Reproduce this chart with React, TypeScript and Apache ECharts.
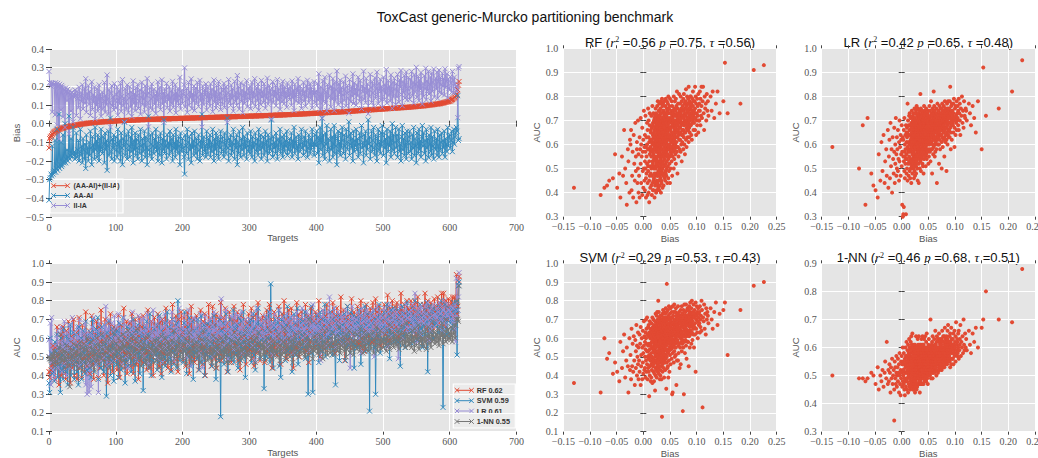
import React, { useEffect, useRef } from "react";
import * as echarts from "echarts";

// ---------- DATA (read/estimated from the reference picture) ----------
// Bias per target, sorted ascending, in thousandths: (AA-AI)+(II-IA)
const BIAS_MILLI = [
  -130,-80,-73,-68,-64,-57,-53,-49,-45,-43,-40,-38,-36,-34,-32,-31,-29,-28,-26,-25,
  -24,-23,-22,-21,-20,-19,-18,-17,-16,-15,-14,-14,-13,-12,-12,-11,-10,-10,-9,-9,
  -8,-7,-7,-6,-5,-5,-4,-4,-3,-2,-2,-1,-1,0,0,1,1,2,2,3,
  3,3,4,4,4,5,5,5,6,6,6,7,7,7,8,8,8,9,9,9,
  9,10,10,10,10,11,11,11,11,12,12,12,12,13,13,13,13,14,14,14,
  14,15,15,15,15,15,16,16,16,16,16,17,17,17,17,17,18,18,18,18,
  18,18,19,19,19,19,19,19,20,20,20,20,20,20,21,21,21,21,21,21,
  21,22,22,22,22,22,22,22,23,23,23,23,23,23,23,23,24,24,24,24,
  24,24,24,24,25,25,25,25,25,25,25,25,26,26,26,26,26,26,26,26,
  27,27,27,27,27,27,27,27,27,28,28,28,28,28,28,28,28,28,29,29,
  29,29,29,29,29,29,29,30,30,30,30,30,30,30,30,30,31,31,31,31,
  31,31,31,31,31,32,32,32,32,32,32,32,32,32,33,33,33,33,33,33,
  33,33,33,34,34,34,34,34,34,34,34,34,35,35,35,35,35,35,35,35,
  35,36,36,36,36,36,36,36,36,36,37,37,37,37,37,37,37,37,37,38,
  38,38,38,38,38,38,38,39,39,39,39,39,39,39,39,40,40,40,40,40,
  40,40,40,41,41,41,41,41,41,41,41,42,42,42,42,42,42,42,42,43,
  43,43,43,43,43,43,44,44,44,44,44,44,44,45,45,45,45,45,45,45,
  46,46,46,46,46,46,46,47,47,47,47,47,47,47,48,48,48,48,48,48,
  49,49,49,49,49,49,50,50,50,50,50,50,51,51,51,51,51,52,52,52,
  52,52,52,53,53,53,53,53,54,54,54,54,54,55,55,55,55,55,56,56,
  56,56,56,56,57,57,57,57,57,58,58,58,58,58,59,59,59,59,59,60,
  60,60,60,60,61,61,61,61,61,62,62,62,62,62,63,63,63,63,63,64,
  64,64,64,64,65,65,65,65,66,66,66,66,67,67,67,67,68,68,68,68,
  69,69,69,69,70,70,70,70,71,71,71,71,72,72,72,72,73,73,73,73,
  74,74,74,74,75,75,75,75,76,76,76,76,77,77,77,77,78,78,78,78,
  79,79,79,79,80,80,80,80,81,81,81,81,82,82,82,82,83,83,83,83,
  84,84,84,84,85,85,85,85,86,86,86,86,87,87,87,87,88,88,88,88,
  89,89,89,90,90,90,91,91,91,92,92,92,93,93,93,94,94,94,95,95,
  95,96,96,97,97,97,98,98,99,99,100,100,101,101,102,102,103,103,104,104,
  105,105,106,106,107,107,108,109,109,110,111,112,113,114,115,116,117,118,119,120,
  121,122,126,128,130,133,136,139,143,150,153,158,182,207,226,
];

// AA-AI per target, in hundredths
const AA_AI_PCT = [
  -41,-30,-29,-27,-28,-12,-27,-26,-25,-9,-26,-24,-3,-25,-23,5,-24,-22,-10,-23,
  -22,-6,-21,-20,0,-21,-19,-14,-20,-18,4,-19,-17,-8,-18,-16,-2,-17,-15,-19,
  -16,-5,-18,-14,-9,-20,-15,-3,-17,-12,-21,-8,-14,-19,-11,-24,-6,-16,-13,-20,
  -10,-17,-4,-13,-22,-7,-15,-11,-19,-2,-14,-9,-18,-6,-12,-20,-8,-15,-3,-13,
  -16,-7,-11,-21,-5,-14,-9,-25,-12,-4,-17,-10,3,-15,-19,-8,-13,-6,-20,-11,
  -7,-14,-18,-3,-11,-16,-9,-20,-5,-13,-22,-8,-12,1,-17,-10,-6,-19,-14,-4,
  -12,-18,-7,-15,-2,-11,-21,-9,-14,-5,-17,-8,-13,-19,-6,-10,-16,-3,-12,-20,
  -8,-15,-11,-4,-18,-7,-13,-22,-9,4,-14,-17,-6,-11,-19,-5,-12,-16,-8,-13,
  -3,-15,-10,-20,-7,-13,-17,-5,-11,-21,-8,-14,2,-16,-9,-12,-19,-6,-13,-10,
  -17,-4,-11,-15,-8,-20,-6,-13,-10,-18,-3,-14,-9,-16,-7,-12,-22,-5,-11,-15,
  -8,-13,-18,-27,-6,-12,-16,-3,-10,-19,-7,-14,-11,-21,-5,-13,-9,-17,-4,-12,
  -16,-8,-19,-11,-6,-14,-20,-9,-13,5,-17,-10,-7,-15,-12,-18,-4,-11,-16,-8,
  -13,-6,-18,-10,-15,-3,-12,-20,-8,-14,-5,-17,-11,-7,-19,-9,-13,-4,-16,-10,
  -7,-14,-18,-5,-11,-16,-9,3,-13,-20,-8,-12,-6,-17,-10,-15,-3,-11,-19,-8,
  -13,-6,-22,-10,-16,-4,-12,-18,-8,-14,-2,-11,-17,-7,-13,-9,-19,-5,-12,-15,
  -9,-16,-4,-12,-18,-7,-13,-10,-20,-5,-11,-15,-8,-17,-3,-12,-14,-6,-19,-10,
  -13,-7,-17,-11,-4,-15,-9,-20,-6,-12,-16,-8,-14,2,-11,-18,-7,-13,-10,-16,
  -5,-12,-19,-8,-14,-10,-3,-16,-11,-7,-18,-13,-6,-15,-9,-12,-4,-17,-10,-14,
  -8,-15,-11,-5,-18,-9,-13,-2,-16,-10,-7,-14,-12,-19,-6,-11,-15,-8,-3,-13,
  -10,-17,-7,-12,-4,-15,-9,-18,-13,-6,-11,-16,-8,-14,-3,-12,-10,-17,-6,-11,
  -12,-4,-16,-7,-21,-9,-2,-14,-10,3,-17,-6,-12,-19,-5,-11,-1,-15,-8,-13,
  -20,-9,-3,-14,-7,-18,-11,-1,-16,-6,-12,-22,-8,-4,-15,-10,-17,-5,-13,-2,
  -9,-16,-6,-12,-19,-3,-10,-14,-7,1,-17,-11,-5,-13,-8,-20,-4,-15,-9,-12,
  -3,-14,-8,-18,-11,-5,-16,-7,-1,-13,-10,-21,-6,-12,-4,-17,-9,-14,2,-11,
  -7,-19,-12,-4,-15,-9,-2,-13,-17,-6,-11,-20,-8,-3,-14,-10,-16,-5,-12,-1,
  -10,-17,-5,-13,-8,-21,-3,-11,-15,-7,-12,-4,-18,-9,0,-14,-6,-16,-10,-2,
  -13,-6,-18,-9,-3,-15,-11,-20,-7,-1,-14,-8,-17,-5,-12,-19,-4,-10,-16,-7,
  -4,-15,-10,-19,-6,-13,-2,-17,-8,-12,-21,-5,-11,-16,-3,-14,-9,-18,-7,-1,
  -12,-5,-16,-9,-20,-3,-13,-8,-18,-6,-11,-15,-2,-17,-7,-12,-19,-4,-10,-14,
  -8,-17,-3,-12,-18,-6,-14,-10,-5,-16,-9,-13,-4,-18,-8,-11,-15,-2,-12,-7,
  -6,-13,-9,-4,-15,-10,-3,-11,-7,-5,-2,-4,15,-9,-8,
];

// AUC per target and model, in hundredths
const AUC_RF_PCT = [
  42,39,42,43,45,46,56,42,48,38,55,47,66,50,44,35,58,53,40,62,
  60,66,41,47,57,38,64,52,45,69,49,55,36,58,61,44,50,70,40,56,
  47,63,38,58,52,71,44,60,55,39,67,49,57,42,62,74,50,45,59,53,
  64,41,57,50,72,46,59,38,63,55,48,69,52,60,39,66,44,58,75,51,
  49,63,40,58,70,53,45,61,36,68,56,47,73,51,62,42,59,66,48,57,
  65,50,43,61,72,55,39,58,67,47,62,53,76,44,60,51,69,41,57,64,
  52,68,45,60,73,56,41,63,50,70,58,46,65,54,38,61,71,48,59,66,
  55,72,47,62,51,67,43,60,75,53,64,44,58,69,50,63,40,57,71,61,
  66,48,60,73,54,45,68,57,41,63,70,52,59,47,65,76,55,62,44,58,
  51,69,60,43,64,78,55,47,67,58,72,49,62,42,70,57,65,53,74,61,
  63,48,71,56,66,45,60,74,52,68,41,62,58,77,50,65,55,70,47,61,
  57,72,49,64,43,67,59,75,53,62,46,69,56,73,40,63,68,51,60,78,
  66,54,70,45,62,77,58,49,67,60,73,44,64,56,71,52,61,79,48,65,
  58,71,50,66,76,55,63,42,68,60,74,53,65,47,70,61,57,77,52,64,
  69,56,74,48,62,67,43,72,59,65,51,78,61,55,70,46,63,68,57,73,
  54,67,60,76,49,64,71,45,62,58,73,52,66,79,56,63,48,70,61,65,
  72,57,64,47,69,61,75,53,66,59,78,50,63,70,44,67,58,74,55,62,
  65,51,71,60,77,56,68,46,63,73,58,66,80,54,62,70,49,67,59,75,
  58,69,52,76,64,60,44,71,62,67,55,79,63,57,73,50,66,61,74,59,
  70,56,67,62,78,53,65,59,72,47,68,63,76,58,64,71,55,69,60,74,
  61,73,57,68,80,63,50,70,65,59,75,62,67,54,72,66,78,58,64,69,
  67,60,74,56,70,79,63,68,52,72,65,76,61,69,57,73,66,82,59,71,
  63,75,68,48,71,66,59,77,64,70,55,73,67,81,62,69,58,74,65,72,
  70,62,77,67,57,73,65,80,60,71,68,75,53,69,64,78,66,72,61,74,
  64,76,69,72,58,79,66,71,63,81,68,74,60,70,77,65,73,56,75,69,
  72,65,78,69,62,75,70,83,67,73,59,76,71,66,80,68,74,63,77,70,
  66,79,71,74,61,77,69,84,72,67,75,63,78,70,73,65,80,71,76,68,
  75,68,80,72,64,77,71,74,62,79,73,69,82,70,76,66,78,72,74,71,
  69,78,73,84,66,75,71,80,64,77,73,70,79,68,76,72,65,81,74,70,
  77,70,82,74,68,79,72,76,84,71,78,84,73,66,80,75,77,70,81,74,
  78,72,80,74,82,71,77,82,73,78,94,73,77,91,93,
];

const AUC_SVM_PCT = [
  36,31,60,49,52,41,47,42,37,58,44,53,62,39,48,55,45,31,60,43,
  51,38,65,45,57,42,61,48,35,59,53,44,67,40,56,50,63,46,38,55,
  48,62,42,57,35,66,51,45,60,38,55,64,47,52,41,69,56,43,61,50,
  58,44,63,39,54,70,48,60,42,57,65,46,53,71,38,62,50,56,44,66,
  53,61,42,67,49,57,29,63,51,45,69,54,40,60,48,65,56,37,62,50,
  57,46,64,52,39,68,55,61,43,58,50,71,47,63,36,59,54,66,45,60,
  49,65,55,42,62,58,70,46,53,37,64,56,48,67,52,60,41,57,63,54,
  61,32,58,66,47,55,69,50,62,44,57,73,52,40,63,56,48,65,59,51,
  55,67,43,60,52,72,48,58,64,39,57,62,50,68,45,59,53,74,47,61,
  66,49,57,42,62,70,53,46,64,58,51,68,44,80,56,61,48,65,52,59,
  60,47,68,74,53,63,41,58,66,50,71,55,45,62,57,69,38,64,52,59,
  54,65,49,70,58,43,63,56,72,47,61,53,67,40,59,64,51,68,55,62,
  63,50,69,57,45,66,59,72,52,61,38,67,55,63,48,70,58,18,64,53,
  59,68,46,62,55,73,51,64,42,60,57,70,49,66,53,61,75,47,58,65,
  52,67,60,44,71,56,63,48,69,58,54,74,50,62,39,66,57,64,51,68,
  62,55,70,47,64,58,73,51,66,43,60,68,54,76,57,63,49,67,59,61,
  56,69,33,64,58,71,50,65,60,74,53,47,89,62,57,68,44,66,61,70,
  64,52,68,58,75,45,62,39,70,57,66,54,72,60,48,67,59,77,53,63,
  58,71,55,66,42,64,60,73,51,68,62,57,76,46,65,59,70,54,67,61,
  69,56,63,74,49,67,60,58,30,71,55,65,62,77,52,31,68,59,64,57,
  63,72,56,68,47,65,74,59,62,53,70,66,58,78,50,67,61,69,55,64,
  60,74,57,66,51,70,63,76,55,35,68,61,72,58,65,48,71,62,67,59,
  67,58,73,62,48,70,64,77,56,66,61,52,74,63,69,57,72,44,65,68,
  62,71,55,68,75,60,66,46,72,64,58,70,63,77,53,67,61,73,57,69,
  21,66,73,59,68,62,75,55,70,30,64,71,58,67,78,61,52,69,65,72,
  66,59,74,63,70,56,78,65,61,72,49,68,75,62,67,71,58,76,64,69,
  70,63,58,75,67,72,45,69,64,77,61,73,66,55,71,68,79,62,74,67,
  64,73,68,57,76,70,63,72,80,66,69,59,74,67,71,62,78,65,72,55,
  71,66,75,62,73,68,79,42,70,65,77,72,63,74,69,60,76,71,67,73,
  68,74,63,77,70,66,72,80,64,75,23,71,69,78,65,73,62,76,70,74,
  72,68,76,70,65,74,79,67,73,75,79,51,75,88,90,
];

const AUC_LR_PCT = [
  59,50,68,35,71,48,43,41,38,56,45,61,49,64,44,53,58,47,66,42,
  55,62,46,69,51,58,40,63,54,48,67,57,44,60,52,71,47,56,63,50,
  58,49,66,54,61,45,70,53,59,64,47,56,62,51,68,35,57,30,63,55,
  31,62,53,34,66,57,49,71,55,60,46,64,58,52,31,68,54,61,48,65,
  56,63,50,67,54,77,59,45,65,57,70,52,61,47,68,58,64,53,72,60,
  55,66,49,61,73,57,52,68,60,46,64,58,71,54,62,50,67,59,44,63,
  60,69,53,65,57,74,51,62,68,56,61,48,66,59,72,54,63,57,70,52,
  64,57,71,50,62,67,55,73,59,46,65,60,69,53,63,58,75,51,61,66,
  56,68,62,49,71,59,64,54,70,60,47,66,58,73,55,62,68,52,65,59,
  63,51,69,60,74,56,65,48,61,70,58,66,53,67,62,76,55,60,64,57,
  66,59,72,54,61,68,50,64,57,75,62,56,69,45,63,60,71,58,66,61,
  59,70,55,64,67,52,62,73,58,65,44,68,61,57,72,63,54,66,60,69,
  64,57,71,62,50,67,60,74,56,65,61,69,53,63,68,58,72,55,81,62,
  67,60,56,70,63,75,58,65,49,68,61,64,72,57,66,60,54,71,62,73,
  59,68,63,55,72,61,66,58,74,52,65,69,60,63,57,70,64,67,51,62,
  70,58,65,61,73,56,67,63,48,69,62,76,59,66,64,54,71,60,68,63,
  61,69,57,66,72,60,64,55,70,63,58,74,65,62,68,51,67,61,73,59,
  66,62,70,56,64,75,61,68,58,63,71,54,67,60,69,65,73,57,62,70,
  63,57,68,72,60,66,52,71,64,69,61,74,58,65,62,70,55,67,63,76,
  60,68,64,71,57,66,74,62,69,53,65,72,61,67,63,78,58,70,64,66,
  69,61,73,64,58,70,66,48,72,63,75,60,68,65,71,56,67,74,62,69,
  82,64,70,59,73,66,62,76,68,55,71,65,63,74,60,69,67,72,57,70,
  66,72,61,69,75,63,67,58,73,65,70,44,68,62,77,64,71,60,69,66,
  70,63,74,67,60,72,65,52,76,68,71,62,69,73,58,66,75,64,70,67,
  64,73,68,71,61,75,66,50,72,69,63,77,67,70,59,74,65,72,68,62,
  71,65,76,68,63,73,70,55,74,66,78,69,61,72,67,75,64,71,69,73,
  67,74,62,49,71,77,65,70,68,73,60,75,69,72,64,78,66,71,63,74,
  72,66,75,69,78,63,71,67,84,73,65,58,70,76,68,74,62,77,71,69,
  74,68,72,77,65,73,70,79,67,59,75,71,64,76,72,69,78,66,73,70,
  71,76,68,74,79,66,73,70,77,64,75,72,80,69,74,67,78,72,71,75,
  74,70,77,73,68,76,71,65,78,58,92,72,75,82,95,
];

const AUC_NN_PCT = [
  50,49,49,48,49,51,50,47,53,45,50,48,52,46,51,55,49,62,47,52,
  48,54,51,44,53,49,56,47,50,52,45,34,55,49,53,47,51,57,46,50,
  53,48,56,51,44,54,50,58,47,52,43,55,49,57,51,46,54,60,48,52,
  50,55,47,58,52,45,54,49,43,56,51,60,48,53,46,57,51,55,49,62,
  54,48,57,51,45,59,52,55,49,61,53,44,56,50,58,47,54,63,51,55,
  50,57,53,46,60,52,55,49,45,58,54,62,48,56,51,59,47,55,64,52,
  56,50,59,53,48,61,55,51,57,46,60,54,52,65,49,57,53,58,45,55,
  51,57,49,54,60,46,53,56,48,61,52,45,55,50,58,53,47,56,51,59,
  55,48,53,59,50,44,56,52,61,49,54,57,46,53,60,51,55,48,58,52,
  51,56,53,47,59,52,55,64,49,54,51,58,45,56,53,60,50,55,52,57,
  54,49,57,53,60,46,55,51,58,52,63,49,56,53,47,59,54,51,57,55,
  52,58,50,55,61,53,47,56,54,59,51,64,49,55,53,57,60,48,54,52,
  55,49,58,52,47,54,61,50,56,53,44,57,51,59,54,48,55,52,60,50,
  53,58,50,55,52,61,47,54,57,51,47,56,53,59,49,55,52,58,63,51,
  56,50,54,59,52,47,57,53,61,49,55,52,58,54,64,50,56,51,59,53,
  51,58,54,49,61,55,53,59,56,47,60,53,57,63,52,55,58,50,56,54,
  56,51,58,53,48,55,60,52,54,57,50,64,53,56,49,55,59,51,58,53,
  52,57,50,55,62,53,48,56,59,51,54,58,52,65,49,55,53,57,51,60,
  55,50,58,53,56,47,59,54,52,61,51,56,53,58,50,55,63,52,57,54,
  58,52,55,50,60,54,57,53,51,70,55,59,52,56,54,49,58,53,61,55,
  54,59,52,57,51,62,55,53,60,56,49,58,54,64,52,57,55,51,59,56,
  57,52,60,55,63,53,58,51,56,61,54,59,53,57,66,55,52,60,56,58,
  55,61,53,58,56,50,62,54,59,57,64,52,56,60,54,58,51,63,57,55,
  59,54,62,56,58,53,65,57,55,60,52,58,63,56,54,61,57,59,53,62,
  56,61,54,59,57,63,52,58,60,55,66,57,53,62,59,56,64,54,58,60,
  58,55,62,57,60,53,64,59,56,61,54,67,58,56,63,60,55,59,62,57,
  61,56,59,64,54,62,58,60,66,56,59,63,57,61,55,68,58,62,56,60,
  57,62,59,55,64,58,61,53,65,60,56,62,59,67,54,61,58,63,56,60,
  60,56,63,58,65,54,61,59,66,57,62,60,55,64,58,69,59,61,57,63,
  62,58,65,60,56,66,59,63,61,68,57,62,60,64,58,70,61,59,65,60,
  63,59,66,61,58,65,62,67,60,67,70,80,70,69,88,
];

const BIAS_LABELS = ["(AA-AI)+(II-IA)", "AA-AI", "II-IA"];
const MODEL_NAMES = ["RF", "SVM", "LR", "1-NN"];
const MODEL_MEAN_AUC = ["0.62", "0.59", "0.61", "0.55"];
const MODEL_R2 = ["0.56", "0.29", "0.42", "0.46"];
const MODEL_P = ["0.75", "0.53", "0.65", "0.68"];
const MODEL_TAU = ["0.56", "0.43", "0.48", "0.51"];
const SCATTER_Y_MIN = [0.3, 0.1, 0.3, 0.3];
const SCATTER_Y_MAX = [1.0, 1.0, 1.0, 0.9];
const TITLE = "ToxCast generic-Murcko partitioning benchmark";

// ---------- derived ----------
const N = Math.min(
  BIAS_MILLI.length, AA_AI_PCT.length, AUC_RF_PCT.length,
  AUC_SVM_PCT.length, AUC_LR_PCT.length, AUC_NN_PCT.length
);
const IDX = Array.from({ length: N }, (_, i) => i);
const BIAS = IDX.map((i) => BIAS_MILLI[i] / 1000);
const AA_AI = IDX.map((i) => AA_AI_PCT[i] / 100);
// (AA-AI)+(II-IA) = bias  =>  II-IA = bias - (AA-AI)
const II_IA = IDX.map((i) => BIAS[i] - AA_AI[i]);
const AUCS = [AUC_RF_PCT, AUC_SVM_PCT, AUC_LR_PCT, AUC_NN_PCT].map((a) =>
  IDX.map((i) => a[i] / 100)
);

// ---------- styling ----------
const RED = "#E24A33";
const BLUE = "#348ABD";
const PURPLE = "#988ED5";
const GRAY = "#777777";
const BIAS_COLORS = [RED, BLUE, PURPLE];
const MODEL_COLORS = [RED, BLUE, PURPLE, GRAY];
const SANS = "'Liberation Sans', Arial, sans-serif";
const SERIF = "'Liberation Serif', 'Times New Roman', serif";
const XMARK = "path://M0,0L10,10M10,0L0,10";

// grid rectangles: 0 bias lines, 1 auc lines, 2 RF, 3 SVM, 4 LR, 5 1-NN
const GRIDS = [
  { left: 49, top: 49, width: 467.5, height: 168 },
  { left: 49, top: 263.3, width: 467.5, height: 168.4 },
  { left: 563.3, top: 48.3, width: 213.4, height: 168.4 },
  { left: 563.3, top: 263.3, width: 213.4, height: 168.4 },
  { left: 821.7, top: 48.3, width: 213.3, height: 168.4 },
  { left: 821.7, top: 263.3, width: 213.3, height: 168.4 },
];

const fmt = (d: number) => (v: number) => {
  const s = Math.abs(v).toFixed(d);
  return (v < -1e-9 ? "\u2212" : "") + s;
};

const tickStyle = { show: true, length: 3, lineStyle: { color: "#444", width: 1 } };
const labelStyle = { fontFamily: SERIF, fontSize: 10, color: "#555" };
const nameStyle = { fontFamily: SANS, fontSize: 9.5, color: "#555" };

function xAxisPair(g: number, min: number, max: number, interval: number, dec: number, name: string, gap: number) {
  return [
    {
      type: "value", gridIndex: g, position: "bottom", min, max, interval,
      name, nameLocation: "middle", nameGap: gap, nameTextStyle: nameStyle,
      axisLine: { show: false }, axisTick: tickStyle,
      axisLabel: { ...labelStyle, margin: 5, formatter: fmt(dec) },
      splitLine: { show: true, lineStyle: { color: "#ffffff", width: 1 } },
    },
    {
      type: "value", gridIndex: g, position: "top", min, max, interval,
      axisLine: { show: false }, axisTick: tickStyle,
      axisLabel: { show: false }, splitLine: { show: false },
    },
  ];
}

function yAxisPair(g: number, min: number, max: number, interval: number, dec: number, name: string, gap: number) {
  return [
    {
      type: "value", gridIndex: g, position: "left", min, max, interval,
      name, nameLocation: "middle", nameGap: gap, nameTextStyle: nameStyle,
      axisLine: { show: false }, axisTick: tickStyle,
      axisLabel: { ...labelStyle, margin: 5, formatter: fmt(dec) },
      splitLine: { show: true, lineStyle: { color: "#ffffff", width: 1 } },
    },
    {
      type: "value", gridIndex: g, position: "right", min, max, interval,
      axisLine: { show: false }, axisTick: tickStyle,
      axisLabel: { show: false }, splitLine: { show: false },
    },
  ];
}

function lineSeries(g: number, ys: number[], color: string, name: string) {
  return {
    type: "line", name, xAxisIndex: 2 * g, yAxisIndex: 2 * g,
    data: ys.map((v, i) => [i, v]),
    symbol: XMARK, symbolSize: 5, showSymbol: true, showAllSymbol: true,
    lineStyle: { color, width: 1 },
    itemStyle: { color, borderColor: color, borderWidth: 1 },
    silent: true, animation: false,
  };
}

function legendGroup(
  box: { x: number; y: number; w: number; h: number },
  labels: string[], colors: string[],
  ys: number[], ix0: number, ix1: number, tx: number, fontSize: number
) {
  const children: any[] = [
    {
      type: "rect",
      shape: { x: box.x, y: box.y, width: box.w, height: box.h },
      style: { fill: "#EBEBEB", stroke: "#FFFFFF", lineWidth: 1.2 },
    },
  ];
  labels.forEach((lab, k) => {
    const y = ys[k];
    const c = colors[k];
    children.push({ type: "line", shape: { x1: ix0, y1: y, x2: ix1, y2: y }, style: { stroke: c, lineWidth: 1 } });
    [ix0, ix1].forEach((cx) => {
      const s = 2.3;
      children.push({ type: "line", shape: { x1: cx - s, y1: y - s, x2: cx + s, y2: y + s }, style: { stroke: c, lineWidth: 1 } });
      children.push({ type: "line", shape: { x1: cx - s, y1: y + s, x2: cx + s, y2: y - s }, style: { stroke: c, lineWidth: 1 } });
    });
    children.push({
      type: "text",
      style: {
        text: lab, x: tx, y, verticalAlign: "middle", align: "left",
        fontFamily: SANS, fontSize, fontWeight: "bold", fill: "#333",
      },
    });
  });
  return { type: "group", children };
}

function scatterTitle(m: number, cx: number, cy: number) {
  return {
    type: "text",
    style: {
      text:
        MODEL_NAMES[m] + " ({i|r}{sup|2} =" + MODEL_R2[m] + " {i|p} =" + MODEL_P[m] +
        ", {i|\u03C4} =" + MODEL_TAU[m] + ")",
      x: cx, y: cy, align: "center", verticalAlign: "middle",
      fontFamily: SANS, fontSize: 13, fill: "#111",
      rich: {
        i: { fontFamily: SERIF, fontStyle: "italic", fontSize: 13, fill: "#111" },
        sup: { fontFamily: SERIF, fontSize: 8, fill: "#111", verticalAlign: "top" },
      },
    },
  };
}

export default function App() {
  const ref = useRef<HTMLDivElement>(null);

  useEffect(() => {
    if (!ref.current) return;
    const chart = echarts.init(ref.current, null, { renderer: "svg" });

    const xAxes: any[] = [];
    const yAxes: any[] = [];
    xAxes.push(...xAxisPair(0, 0, 700, 100, 0, "Targets", 15));
    yAxes.push(...yAxisPair(0, -0.5, 0.4, 0.1, 1, "Bias", 28));
    xAxes.push(...xAxisPair(1, 0, 700, 100, 0, "Targets", 16));
    yAxes.push(...yAxisPair(1, 0.1, 1.0, 0.1, 1, "AUC", 28));
    const scatterGrid = [2, 3, 4, 5];
    const scatterNameGap = [19, 19, 21, 21];
    scatterGrid.forEach((g, m) => {
      xAxes.push(...xAxisPair(g, -0.15, 0.25, 0.05, 2, "Bias", 17));
      yAxes.push(...yAxisPair(g, SCATTER_Y_MIN[m], SCATTER_Y_MAX[m], 0.1, 1, "AUC", scatterNameGap[m]));
    });

    const series: any[] = [];
    [BIAS, AA_AI, II_IA].forEach((ys, k) => series.push(lineSeries(0, ys, BIAS_COLORS[k], BIAS_LABELS[k])));
    AUCS.forEach((ys, m) => series.push(lineSeries(1, ys, MODEL_COLORS[m], MODEL_NAMES[m])));
    AUCS.forEach((ys, m) => {
      const g = scatterGrid[m];
      series.push({
        type: "scatter", name: MODEL_NAMES[m] + " scatter",
        xAxisIndex: 2 * g, yAxisIndex: 2 * g,
        data: IDX.map((i) => [BIAS[i], ys[i]]),
        symbol: "circle", symbolSize: 4,
        itemStyle: { color: RED, opacity: 1 },
        silent: true, animation: false,
      });
    });

    const graphic: any[] = [
      {
        type: "text",
        style: {
          text: TITLE, x: 525, y: 17, align: "center", verticalAlign: "middle",
          fontFamily: SANS, fontSize: 14, fill: "#111",
        },
      },
      scatterTitle(0, 670, 42),
      scatterTitle(2, 928.3, 42),
      scatterTitle(1, 670, 257.5),
      scatterTitle(3, 928.3, 257.5),
      legendGroup({ x: 50, y: 179, w: 73, h: 34 }, BIAS_LABELS, BIAS_COLORS, [185.7, 195.5, 205.5], 53.5, 67.5, 73.5, 7),
      legendGroup(
        { x: 453.3, y: 384, w: 62, h: 44 },
        MODEL_NAMES.map((n, m) => n + " " + MODEL_MEAN_AUC[m]),
        MODEL_COLORS, [390.3, 400.7, 411, 421.5], 457, 471.5, 476.7, 7.3
      ),
    ];

    chart.setOption({
      animation: false,
      backgroundColor: "#ffffff",
      grid: GRIDS.map((g) => ({
        ...g, show: true, backgroundColor: "#E5E5E5", borderWidth: 0,
        containLabel: false, outerBoundsMode: "none",
      })),
      xAxis: xAxes,
      yAxis: yAxes,
      series,
      graphic,
    });

    return () => chart.dispose();
  }, []);

  return (
    <div
      ref={ref}
      style={{ position: "absolute", left: 0, top: 0, width: 1038, height: 458, background: "#fff" }}
    />
  );
}
